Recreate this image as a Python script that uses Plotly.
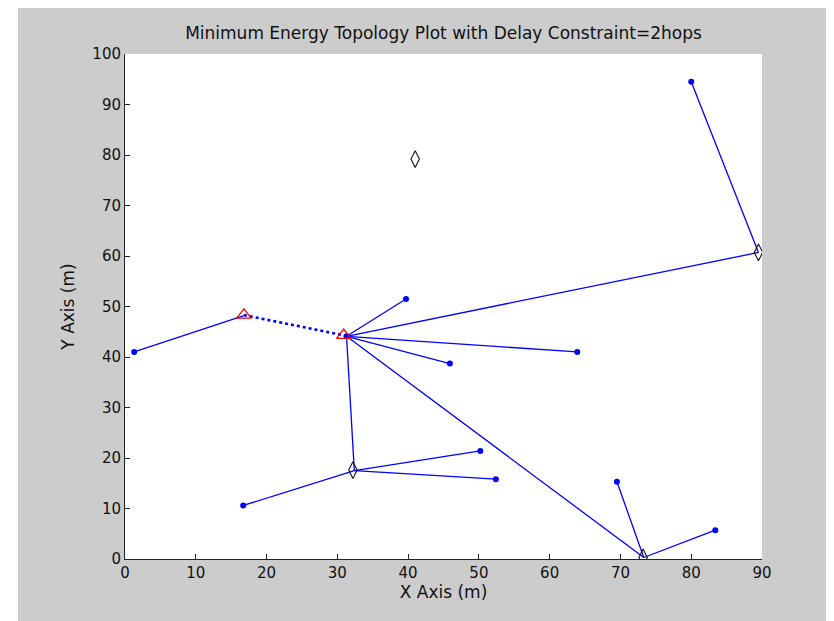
import plotly.graph_objects as go

# Sensor nodes (blue dots)
node_x = [1.3, 39.7, 45.9, 63.9, 80.0, 16.7, 50.2, 52.4, 69.5, 83.4, 31.3]
node_y = [41.0, 51.5, 38.7, 41.0, 94.5, 10.6, 21.4, 15.8, 15.3, 5.7, 44.1]

# Solid links (from -> to)
link_from_x = [1.3, 31.3, 31.3, 31.3, 31.3, 31.3, 31.3, 80.0, 16.7, 50.2, 52.4, 69.5, 83.4]
link_from_y = [41.0, 44.1, 44.1, 44.1, 44.1, 44.1, 44.1, 94.5, 10.6, 21.4, 15.8, 15.3, 5.7]
link_to_x = [16.8, 39.7, 89.5, 63.9, 45.9, 32.4, 73.3, 89.5, 32.4, 32.4, 32.4, 73.3, 73.3]
link_to_y = [48.2, 51.5, 60.7, 41.0, 38.7, 17.5, 0.3, 60.7, 17.5, 17.5, 17.5, 0.3, 0.3]

# Cluster heads (diamonds)
head_x = [41.0, 89.5, 32.2, 73.2]
head_y = [79.2, 60.7, 17.6, 0.3]

# Gateways (triangles) joined by the dotted link
gate_x = [16.8, 30.9]
gate_y = [48.3, 44.3]

x_ticks = [0, 10, 20, 30, 40, 50, 60, 70, 80, 90]
y_ticks = [0, 10, 20, 30, 40, 50, 60, 70, 80, 90, 100]

seg_x, seg_y = [], []
for fx, fy, tx, ty in zip(link_from_x, link_from_y, link_to_x, link_to_y):
    seg_x += [fx, tx, None]
    seg_y += [fy, ty, None]

fig = go.Figure()
fig.add_trace(go.Scatter(x=seg_x, y=seg_y, mode="lines",
                         line=dict(color="#0000ff", width=1.3), hoverinfo="skip"))
fig.add_trace(go.Scatter(x=gate_x, y=gate_y, mode="lines",
                         line=dict(color="#0000ff", width=2.6, dash="dot")))
fig.add_trace(go.Scatter(x=node_x, y=node_y, mode="markers",
                         marker=dict(color="#0000ff", size=6, symbol="circle")))
fig.add_trace(go.Scatter(x=head_x, y=head_y, mode="markers",
                         marker=dict(symbol="diamond-tall-open", size=12,
                                     color="#111111", line=dict(width=1.1))))
fig.add_trace(go.Scatter(x=gate_x, y=gate_y, mode="markers",
                         marker=dict(symbol="triangle-up-open", size=12.5,
                                     color="#ff0000", line=dict(width=1.2))))

# The page places the figure 8px from the window's top-left corner
W, H = 826, 613
L, T, R, B = 117, 46, 72, 62
pw = W - L - R
ph = H - T - B

font_family = "DejaVu Sans, sans-serif"
fig.update_layout(
    width=W, height=H,
    showlegend=False,
    paper_bgcolor="#cccccc",
    plot_bgcolor="#ffffff",
    margin=dict(l=L, r=R, t=T, b=B),
    font=dict(family=font_family, size=15, color="#111111"),
    title=dict(text="Minimum Energy Topology Plot with Delay Constraint=2hops",
               x=(L + pw / 2) / W, xanchor="center", y=1 - 25 / H, yanchor="middle",
               font=dict(size=17, color="#111111")),
    xaxis=dict(range=[0, 90], tickvals=x_ticks, ticks="inside", ticklen=5,
               tickcolor="#222222", showline=True, linecolor="#222222", linewidth=1,
               showgrid=False, zeroline=False, mirror=False,
               title=dict(text="X Axis (m)", standoff=0, font=dict(size=17)),
               tickfont=dict(size=15)),
    yaxis=dict(range=[0, 100], tickvals=y_ticks, ticks="inside", ticklen=5,
               tickcolor="#222222", showline=True, linecolor="#222222", linewidth=1,
               showgrid=False, zeroline=False, mirror=False,
               title=dict(text="Y Axis (m)", standoff=13, font=dict(size=17)),
               tickfont=dict(size=15)),
)

# White strip at the left edge, outside the grey figure area
fig.add_shape(type="rect", xref="paper", yref="paper",
              x0=-L / pw, x1=(10 - L) / pw, y0=-B / ph - 0.1, y1=(H - B) / ph + 0.1,
              fillcolor="#ffffff", line=dict(width=0), layer="above")

fig.write_html("out.html")
